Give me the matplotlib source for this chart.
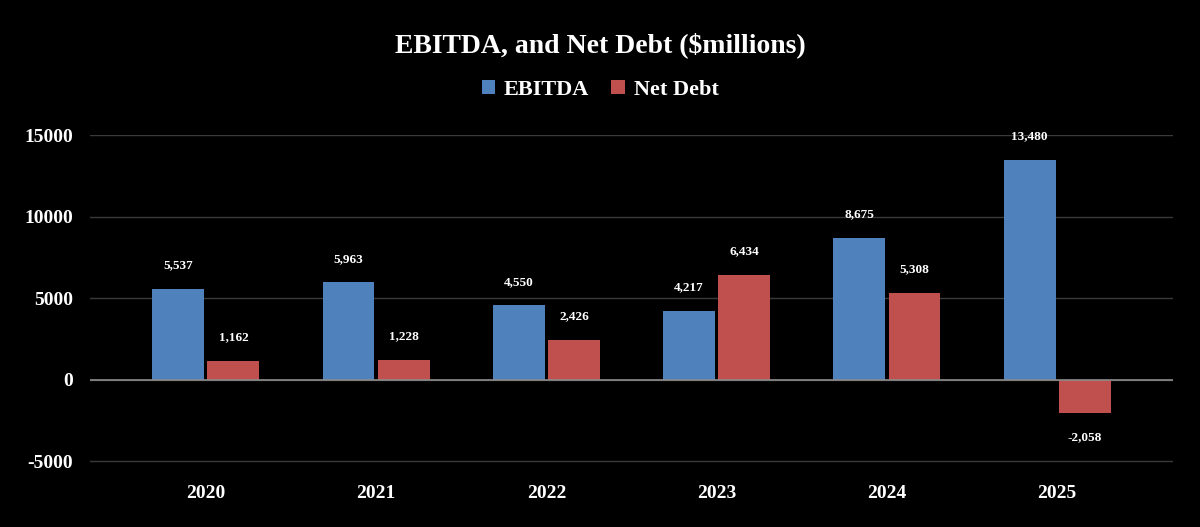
import numpy as np
import matplotlib.pyplot as plt

# Дані (мільйони $)
years = ['2020', '2021', '2022', '2023', '2024', '2025']
ebitda = [5537, 5963, 4550, 4217, 8675, 13480]
net_debt = [1162, 1228, 2426, 6434, 5308, -2058]

blue = '#4F81BD'
red = '#C0504D'

plt.rcParams['font.family'] = ['Liberation Serif', 'DejaVu Serif']
plt.rcParams['font.weight'] = 'bold'
plt.rcParams['axes.unicode_minus'] = False

fig = plt.figure(figsize=(12, 5.27), dpi=100, facecolor='black')
ax = fig.add_axes([0.075, 0.1221, 0.9025, 0.6217], facecolor='black')

x = np.arange(len(years))
w = 0.305
off = 0.162
b1 = ax.bar(x - off, ebitda, w, color=blue, label='EBITDA', zorder=3)
b2 = ax.bar(x + off, net_debt, w, color=red, label='Net Debt', zorder=3)

# Підписи значень
for bars, vals in ((b1, ebitda), (b2, net_debt)):
    for b, v in zip(bars, vals):
        dy = 17 if v >= 0 else -17
        ax.annotate(f'{v:,}', (b.get_x() + b.get_width() / 2, v),
                    xytext=(0, dy), textcoords='offset points',
                    ha='center', va='center', color='white',
                    fontsize=9.5, fontweight='bold', clip_on=False)

ax.set_ylim(-5100, 15000)
ax.set_xlim(-0.68, 5.68)
ax.set_yticks([-5000, 0, 5000, 10000, 15000])
ax.set_xticks(x)
ax.set_xticklabels(years)
ax.tick_params(axis='both', colors='white', labelsize=14, length=0)
ax.tick_params(axis='x', pad=16)
ax.tick_params(axis='y', pad=12)
for lab in ax.get_xticklabels() + ax.get_yticklabels():
    lab.set_fontweight('bold')

ax.grid(axis='y', color='#3a3a3a', linewidth=1, zorder=0)
ax.axhline(0, color='#8c8c8c', linewidth=1.2, zorder=4)
for s in ax.spines.values():
    s.set_visible(False)

fig.text(0.5, 0.914, 'EBITDA, and Net Debt ($millions)', ha='center', va='center',
         color='white', fontsize=20, fontweight='bold')
leg = fig.legend(handles=[b1, b2], loc='center', bbox_to_anchor=(0.5, 0.83), ncol=2,
                 frameon=False, fontsize=16, handlelength=0.6, handleheight=0.6,
                 handletextpad=0.4, columnspacing=1.0)
for t in leg.get_texts():
    t.set_color('white')
    t.set_fontweight('bold')

plt.savefig('out.png', dpi=100, facecolor='black')
